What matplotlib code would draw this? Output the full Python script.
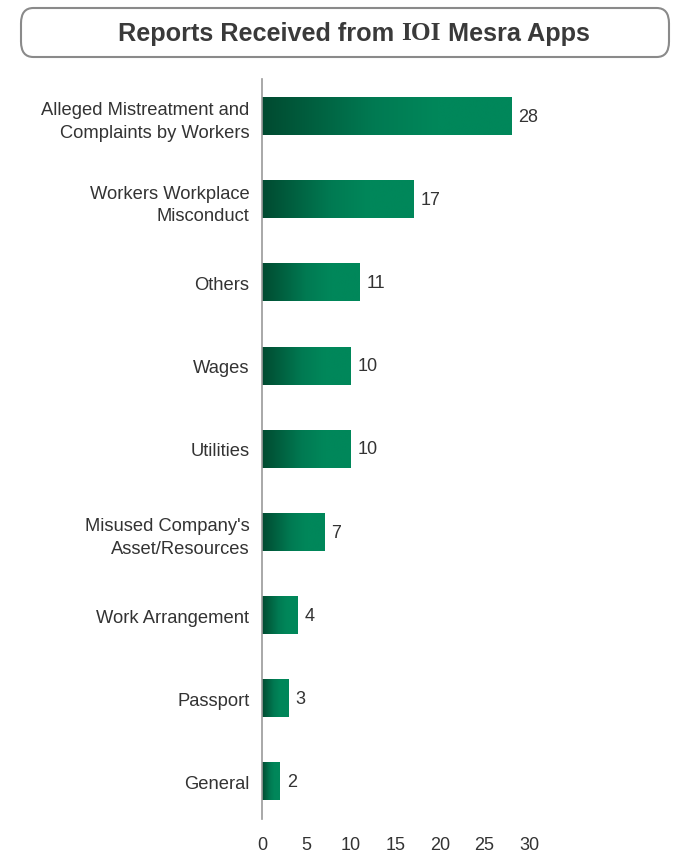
import numpy as np
import matplotlib.pyplot as plt
from matplotlib.colors import LinearSegmentedColormap
from matplotlib.patches import FancyBboxPatch

categories = ["Alleged Mistreatment and\nComplaints by Workers",
              "Workers Workplace\nMisconduct",
              "Others",
              "Wages",
              "Utilities",
              "Misused Company's\nAsset/Resources",
              "Work Arrangement",
              "Passport",
              "General"]
counts = [28, 17, 11, 10, 10, 7, 4, 3, 2]
xticks = [0, 5, 10, 15, 20, 25, 30]

plt.rcParams['font.family'] = ['Liberation Sans', 'DejaVu Sans']
text_col = "#333333"

fig = plt.figure(figsize=(6.83, 8.53), dpi=100)
ax = fig.add_axes([262/683, 33/853, (529-262)/683, 740/853])

grad = LinearSegmentedColormap.from_list(
    "g", [(0, "#004a30"), (0.45, "#007a52"), (0.7, "#00875a"), (1, "#00875a")])
gimg = np.linspace(0, 1, 256).reshape(1, -1)

bar_h = 0.45
n = len(categories)
for i, (cat, v) in enumerate(zip(categories, counts)):
    y = n - 1 - i
    ax.imshow(gimg, cmap=grad, aspect='auto', interpolation='bicubic',
              extent=[0, v, y - bar_h/2, y + bar_h/2], zorder=2)
    ax.text(v + 0.8, y, str(v), va='center', ha='left', fontsize=13, color=text_col)

ax.set_xlim(0, 30)
ax.set_ylim(-0.45, n - 1 + 0.45)
ax.set_yticks(range(n))
ax.set_yticklabels(categories[::-1], fontsize=13.2, color=text_col, linespacing=1.45)
ax.set_xticks(xticks)
ax.set_xticklabels([str(t) for t in xticks], fontsize=13, color=text_col)
ax.tick_params(axis='both', length=0)
ax.tick_params(axis='x', pad=12)
ax.tick_params(axis='y', pad=9)
for s in ['top', 'right', 'bottom']:
    ax.spines[s].set_visible(False)
ax.spines['left'].set_color("#999999")
ax.spines['left'].set_linewidth(1.2)
ax.spines['left'].set_zorder(3)

# title box
box = FancyBboxPatch((21/683, 1 - 58/853), (669-21)/683, 49/853,
                     boxstyle="round,pad=0,rounding_size=0.018",
                     transform=fig.transFigure, facecolor='white',
                     edgecolor="#8a8a8a", linewidth=1.5)
fig.patches.append(box)

parts = [("Reports Received from ", 'Liberation Sans'),
         ("IOI", 'Liberation Serif'),
         (" Mesra Apps", 'Liberation Sans')]
ty = 1 - 34/853
texts = []
for s, fam in parts:
    texts.append(fig.text(0, ty, s, fontsize=18.2, fontweight='bold', family=fam,
                          color="#3a3a3a", va='center', ha='left'))
fig.canvas.draw()
r = fig.canvas.get_renderer()
widths = [t.get_window_extent(r).width for t in texts]
total = sum(widths)
x = 354 - total / 2
for t, w in zip(texts, widths):
    t.set_x(x / 683)
    x += w

fig.savefig("out.png", dpi=100)
